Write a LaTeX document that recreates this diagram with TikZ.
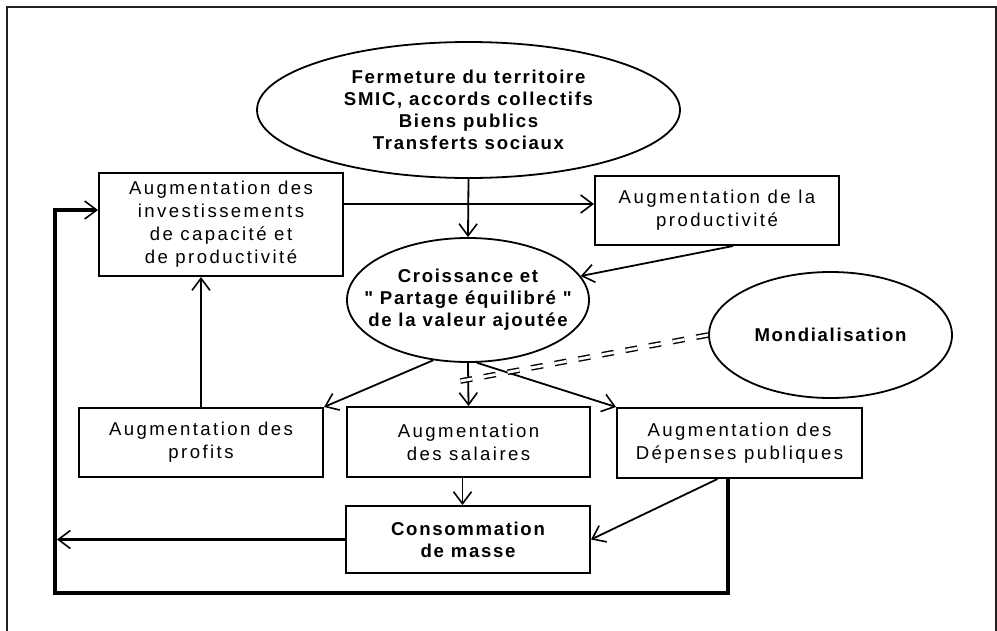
\documentclass[tikz,border=0pt]{standalone}
\usepackage{fontspec}
\setmainfont{Liberation Sans}
\newfontfamily\boxff{Liberation Sans}[LetterSpace=13]
\newfontfamily\ellff{Liberation Sans}[LetterSpace=9]
\newcommand\boxfont{\boxff\fontsize{18.6}{23}\selectfont}
\newcommand\ellfont{\ellff\bfseries\fontsize{18.6}{22}\selectfont}
\usetikzlibrary{shapes.geometric,arrows.meta,calc}
\definecolor{framecol}{HTML}{231F20}
\begin{document}
\begin{tikzpicture}[x=1pt,y=-1pt,
  boxst/.style={draw, line width=2pt, minimum width=244pt, minimum height=69pt, inner sep=0pt, align=center, font=\boxfont},
  ellst/.style={draw, ellipse, line width=1.8pt, inner sep=0pt, align=center, font=\ellfont},
  tipst/.style={-{Straight Barb[length=12pt,width=18pt,line width=1.6pt]}},
  arr/.style={line width=1.8pt, tipst},
  fbline/.style={line width=3.8pt},
  ddash/.style={double, double distance=2.8pt, line width=1.4pt, dash pattern=on 12pt off 12pt}]
\useasboundingbox (0,0) rectangle (997,630);
\draw[line width=2pt, framecol] (7,631) -- (7,7) -- (995.5,7) -- (995.5,631);

\node[ellst, minimum width=423pt, minimum height=136pt] (top) at (468.5,110)
  {Fermeture du territoire\\SMIC, accords collectifs\\Biens publics\\Transferts sociaux};
\node[boxst, minimum height=103pt] (inv) at (221,224.5)
  {Augmentation des\\investissements\\de capacité et\\de productivité};
\node[boxst] (prod) at (717,210.5) {Augmentation de la\\productivité};
\node[ellst, minimum width=242pt, minimum height=124pt, inner xsep=-30pt] (crois) at (468,300)
  {Croissance et\\" Partage équilibré "\\de la valeur ajoutée};
\node[ellst, minimum width=243pt, minimum height=126pt] (mond) at (830.5,335) {Mondialisation};
\node[boxst] (prof) at (201,442.5) {Augmentation des\\profits};
\node[boxst, minimum width=243pt, minimum height=70pt] (sal) at (468.5,442) {Augmentation\\des salaires};
\node[boxst, minimum width=245pt, minimum height=70pt] (dep) at (739.5,443) {Augmentation des\\Dépenses publiques};
\node[boxst, minimum height=67pt, font=\ellfont] (cons) at (468,539.5) {Consommation\\de masse};

\coordinate (lb) at (55,593);
\coordinate (dd) at (450,383);

\draw[arr] (top.south) -- (crois.north);
\draw[arr] ([yshift=20.5pt]inv.east) -- ([yshift=20.5pt]inv.east -| prod.west);
\draw[arr] ([xshift=16pt]prod.south) -- (crois.12);
\draw[arr] (crois.240) -- (prof.north east);
\draw[arr] (crois.south) -- (sal.north);
\draw[arr] (crois.278) -- (dep.north west);
\draw[arr] (prof.north) -- (prof.north |- inv.south);
\draw[arr] ([xshift=-6pt]sal.south) -- ([xshift=-6pt]sal.south |- cons.north);
\draw[arr] ([xshift=-22pt]dep.south) -- (cons.east);

\draw[fbline, tipst] ([xshift=-11.5pt]dep.south) |- (lb) |- ([yshift=14.5pt]inv.west);
\draw[fbline, tipst] (cons.west) -- ([xshift=2pt]cons.west -| lb);
\draw[ddash] (mond.west) -- (dd);
\end{tikzpicture}
\end{document}
